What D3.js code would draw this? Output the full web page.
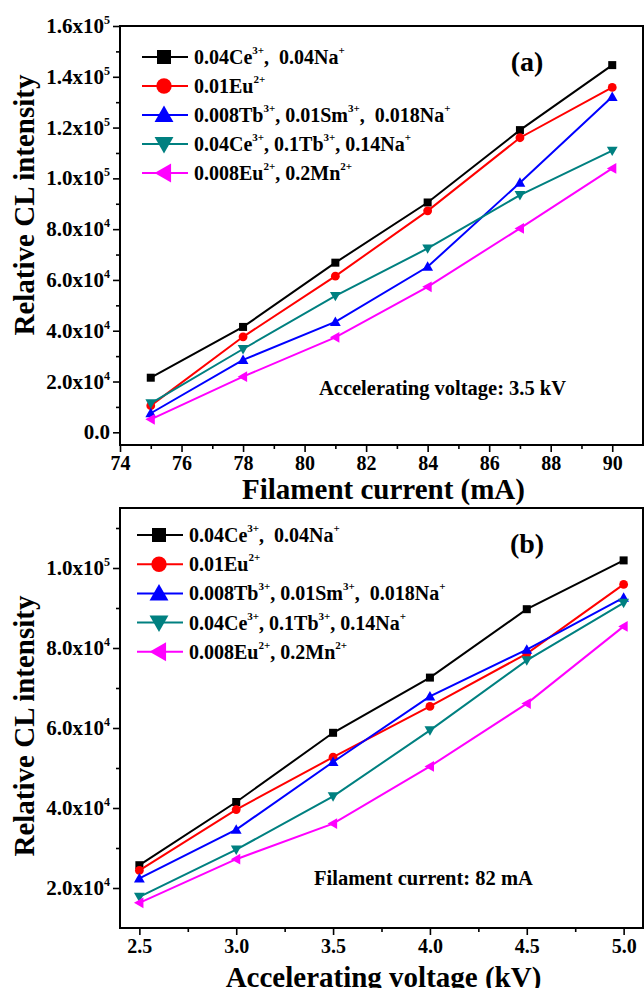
<!DOCTYPE html>
<html>
<head>
<meta charset="utf-8">
<title>cl_intensity</title>
<script src="https://d3js.org/d3.v7.min.js"></script>
<style>
  body {margin:0; background:#fff;}
  svg text {font-family:"Liberation Serif","Times New Roman",serif; font-weight:bold; fill:#000; white-space:pre;}
</style>
</head>
<body>
<script>
// ---- data ----
const colors = ["#000000", "#ff0000", "#0000ff", "#008080", "#ff00ff"];
const shapes = ["square", "circle", "up", "down", "left"];
// legend labels: [text, isSuperscript]
const legendLabels = [
  [["0.04Ce",0],["3+",1],[",  0.04Na",0],["+",1]],
  [["0.01Eu",0],["2+",1]],
  [["0.008Tb",0],["3+",1],[", 0.01Sm",0],["3+",1],[",  0.018Na",0],["+",1]],
  [["0.04Ce",0],["3+",1],[", 0.1Tb",0],["3+",1],[", 0.14Na",0],["+",1]],
  [["0.008Eu",0],["2+",1],[", 0.2Mn",0],["2+",1]]
];

// panel (a): filament current (mA), accelerating voltage 3.5 kV
const currentA = [75, 78, 81, 84, 87, 90];
const ceNaA    = [21500, 41500, 66800, 90500, 119000, 144600];
const euA      = [10500, 37600, 61500, 87200, 116000, 135800];
const tbSmNaA  = [7500, 28500, 43500, 65200, 98300, 132100];
const ceTbNaA  = [11400, 32800, 53700, 72400, 93400, 110900];
const euMnA    = [5100, 21900, 37400, 57300, 80300, 103900];
const xTicksA  = [74, 76, 78, 80, 82, 84, 86, 88, 90];
const yTicksA  = [0, 20000, 40000, 60000, 80000, 100000, 120000, 140000, 160000];
const yLabelsA = [["0.0",""],["2.0x10","4"],["4.0x10","4"],["6.0x10","4"],["8.0x10","4"],
                  ["1.0x10","5"],["1.2x10","5"],["1.4x10","5"],["1.6x10","5"]];

// panel (b): accelerating voltage (kV), filament current 82 mA
const voltageB = [2.5, 3.0, 3.5, 4.0, 4.5, 5.0];
const ceNaB    = [25700, 41500, 58800, 72600, 89700, 101900];
const euB      = [24400, 39600, 52700, 65400, 78600, 95900];
const tbSmNaB  = [22400, 34600, 51500, 67900, 79600, 92600];
const ceTbNaB  = [17800, 29600, 42900, 59400, 76900, 91300];
const euMnB    = [16300, 27200, 36100, 50400, 66100, 85400];
const xTicksB  = [2.5, 3.0, 3.5, 4.0, 4.5, 5.0];
const yTicksB  = [20000, 40000, 60000, 80000, 100000];
const yLabelsB = [["2.0x10","4"],["4.0x10","4"],["6.0x10","4"],["8.0x10","4"],["1.0x10","5"]];

const W = 644, H = 988;
const svg = d3.select("body").append("svg").attr("width", W).attr("height", H);

function marker(g, shape, cx, cy, s, color) {
  // s = half size
  let p;
  if (shape === "square") {
    g.append("rect").attr("x", cx - s).attr("y", cy - s).attr("width", 2*s).attr("height", 2*s).attr("fill", color);
    return;
  }
  if (shape === "circle") {
    g.append("circle").attr("cx", cx).attr("cy", cy).attr("r", s*1.1).attr("fill", color);
    return;
  }
  const a = s*1.35;
  if (shape === "up")   p = [[cx, cy - a], [cx + a, cy + a*0.75], [cx - a, cy + a*0.75]];
  if (shape === "down") p = [[cx, cy + a], [cx + a, cy - a*0.75], [cx - a, cy - a*0.75]];
  if (shape === "left") p = [[cx - a, cy], [cx + a*0.75, cy - a], [cx + a*0.75, cy + a]];
  g.append("path").attr("d", "M" + p.map(d => d.join(",")).join("L") + "Z").attr("fill", color);
}

function supText(sel, parts, big, small, rise) {
  let prevSup = false;
  parts.forEach(([t, s]) => {
    let dy = 0;
    if (s && !prevSup) dy = -rise;
    if (!s && prevSup) dy = rise;
    sel.append("tspan").text(t).attr("font-size", s ? small : big).attr("dy", dy);
    prevSup = !!s;
  });
}

function panel(opt) {
  const {top, bottom, left, right, xDomain, yDomain, xs, series, xTicks, xMinor, xFmt,
         yTicks, yLabels, yMinor, tag, note, noteX, noteY, xTitle, xTitleY, yTitleY, legY, legX, legStep} = opt;
  const x = d3.scaleLinear().domain(xDomain).range([left, right]);
  const y = d3.scaleLinear().domain(yDomain).range([bottom, top]);
  const g = svg.append("g");

  // minor ticks
  g.append("g").attr("transform", `translate(0,${bottom})`)
    .call(d3.axisBottom(x).tickValues(xMinor).tickSize(4).tickFormat(""))
    .call(s => s.select(".domain").remove())
    .call(s => s.selectAll("text").remove())
    .selectAll("line").attr("stroke-width", 1.6);
  g.append("g").attr("transform", `translate(${left},0)`)
    .call(d3.axisLeft(y).tickValues(yMinor).tickSize(4).tickFormat(""))
    .call(s => s.select(".domain").remove())
    .call(s => s.selectAll("text").remove())
    .selectAll("line").attr("stroke-width", 1.6);

  // major ticks
  const xa = g.append("g").attr("transform", `translate(0,${bottom})`)
    .call(d3.axisBottom(x).tickValues(xTicks).tickSize(7).tickPadding(4).tickFormat(xFmt));
  xa.select(".domain").remove();
  xa.selectAll("line").attr("stroke-width", 1.6);
  xa.selectAll("text").attr("font-size", 20).attr("font-family", null).attr("fill", "#000");

  const ya = g.append("g").attr("transform", `translate(${left},0)`)
    .call(d3.axisLeft(y).tickValues(yTicks).tickSize(7).tickFormat(""));
  ya.select(".domain").remove();
  ya.selectAll("text").remove();
  ya.selectAll("line").attr("stroke-width", 1.6);
  yTicks.forEach((v, i) => {
    const t = g.append("text").attr("x", left - 10).attr("y", y(v) + 7).attr("text-anchor", "end");
    t.append("tspan").text(yLabels[i][0]).attr("font-size", 21);
    if (yLabels[i][1]) t.append("tspan").text(yLabels[i][1]).attr("font-size", 12).attr("dy", -9);
  });

  // frame
  g.append("rect").attr("x", left).attr("y", top).attr("width", right - left).attr("height", bottom - top)
    .attr("fill", "none").attr("stroke", "#000").attr("stroke-width", 2);

  // series
  series.forEach((vals, k) => {
    const line = d3.line().x((d, i) => x(xs[i])).y(d => y(d));
    g.append("path").datum(vals).attr("d", line).attr("fill", "none")
      .attr("stroke", colors[k]).attr("stroke-width", 2);
    vals.forEach((v, i) => marker(g, shapes[k], x(xs[i]), y(v), 4, colors[k]));
  });

  // legend
  legendLabels.forEach((lab, k) => {
    const ly = legY + k * legStep;
    g.append("line").attr("x1", legX).attr("x2", legX + 46).attr("y1", ly).attr("y2", ly)
      .attr("stroke", colors[k]).attr("stroke-width", 2);
    marker(g, shapes[k], legX + 22, ly, 7, colors[k]);
    const t = g.append("text").attr("x", legX + 52).attr("y", ly + 7);
    supText(t, lab, 20, 11, 10);
  });

  g.append("text").attr("x", 527).attr("y", top + 45).attr("text-anchor", "middle")
    .attr("font-size", 28).text(tag);
  g.append("text").attr("x", noteX).attr("y", noteY).attr("font-size", 20.5).text(note);

  g.append("text").attr("x", (left + right) / 2 + 2).attr("y", xTitleY).attr("text-anchor", "middle")
    .attr("font-size", 29).text(xTitle);
  g.append("text").attr("transform", `translate(34,${yTitleY}) rotate(-90)`).attr("text-anchor", "middle")
    .attr("font-size", 29).text("Relative CL intensity");
}

panel({
  top: 26, bottom: 445, left: 120, right: 643,
  xDomain: [74, 91], yDomain: [-5000, 160000],
  xs: currentA, series: [ceNaA, euA, tbSmNaA, ceTbNaA, euMnA],
  xTicks: xTicksA, xMinor: d3.range(75, 91, 2), xFmt: d3.format("d"),
  yTicks: yTicksA, yLabels: yLabelsA, yMinor: d3.range(10000, 160000, 20000),
  tag: "(a)", note: "Accelerating voltage: 3.5 kV", noteX: 319, noteY: 395,
  xTitle: "Filament current (mA)", xTitleY: 499, yTitleY: 205,
  legX: 142, legY: 57, legStep: 29
});

panel({
  top: 508, bottom: 928, left: 120, right: 643,
  xDomain: [2.4, 5.1], yDomain: [10000, 115000],
  xs: voltageB, series: [ceNaB, euB, tbSmNaB, ceTbNaB, euMnB],
  xTicks: xTicksB, xMinor: [2.75, 3.25, 3.75, 4.25, 4.75], xFmt: d3.format(".1f"),
  yTicks: yTicksB, yLabels: yLabelsB, yMinor: [30000, 50000, 70000, 90000, 110000],
  tag: "(b)", note: "Filament current: 82 mA", noteX: 314, noteY: 885,
  xTitle: "Accelerating voltage (kV)", xTitleY: 987, yTitleY: 726,
  legX: 137, legY: 535, legStep: 29.2
});
</script>
</body>
</html>
